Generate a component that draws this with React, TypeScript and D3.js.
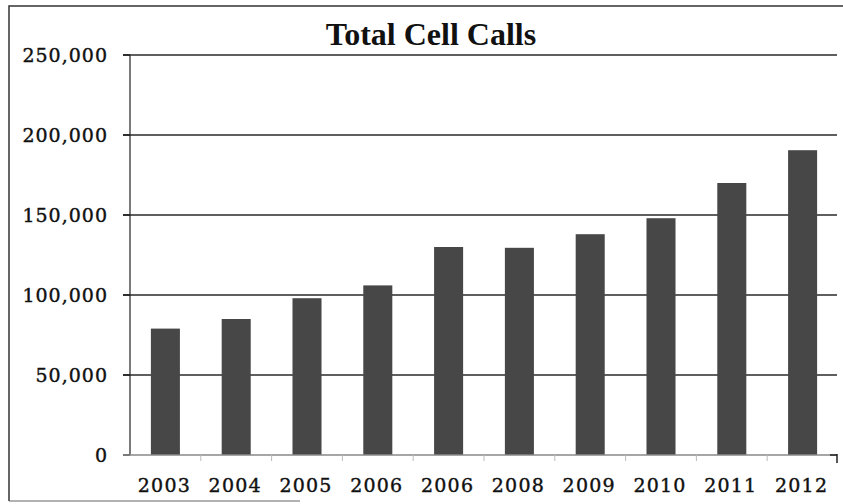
import React from "react";
import * as d3 from "d3";

const years = ["2003", "2004", "2005", "2006", "2006", "2008", "2009", "2010", "2011", "2012"];
const calls = [79000, 85000, 98000, 106000, 130000, 129500, 138000, 148000, 170000, 190500];
const yTicks = [0, 50000, 100000, 150000, 200000, 250000];
const title = "Total Cell Calls";

const W = 843;
const H = 504;

export default function App() {
  const x = d3
    .scaleBand<number>()
    .domain(d3.range(years.length))
    .range([130, 838])
    .paddingInner(0.59)
    .paddingOuter(0.295);
  const y = d3.scaleLinear().domain([0, 250000]).range([455, 55]);
  const fmt = d3.format(",");
  const labelFont = "'DejaVu Serif', Georgia, serif";

  return (
    <svg
      width={W}
      height={H}
      style={{ position: "absolute", left: 0, top: 0, background: "#fff" }}
    >
      {/* frame */}
      <path d="M9,501 L9,6 L843,6" fill="none" stroke="#333" strokeWidth={1.5} />
      <line x1={9} x2={300} y1={501} y2={501} stroke="#666" strokeWidth={1.2} />

      {/* title */}
      <text
        x={431}
        y={45}
        textAnchor="middle"
        fontFamily="'Liberation Serif', 'Times New Roman', serif"
        fontWeight="bold"
        fontSize={32}
        fill="#111"
      >
        {title}
      </text>

      {/* gridlines */}
      {yTicks
        .filter((t) => t > 0)
        .map((t) => (
          <line
            key={"g" + t}
            x1={123}
            x2={837}
            y1={y(t)}
            y2={y(t)}
            stroke="#2a2a2a"
            strokeWidth={1.6}
          />
        ))}

      {/* bars */}
      {calls.map((v, i) => (
        <rect
          key={"b" + i}
          x={x(i)!}
          y={y(v)}
          width={x.bandwidth()}
          height={y(0) - y(v)}
          fill="#474747"
        />
      ))}

      {/* y axis */}
      <line x1={130} x2={130} y1={y(250000)} y2={y(0)} stroke="#222" strokeWidth={1.2} />
      {yTicks.map((t) => (
        <g key={"yt" + t}>
          <line x1={123} x2={130} y1={y(t)} y2={y(t)} stroke="#222" strokeWidth={1.6} />
          <text
            x={108}
            y={y(t)}
            dy="0.38em"
            textAnchor="end"
            fontFamily={labelFont}
            fontSize={19}
            letterSpacing={1}
            stroke="#111"
            strokeWidth={0.4}
            fill="#111"
          >
            {fmt(t)}
          </text>
        </g>
      ))}

      {/* x axis */}
      <line x1={123} x2={837} y1={y(0)} y2={y(0)} stroke="#888" strokeWidth={1.6} />
      <line x1={837} x2={837} y1={y(0) - 1} y2={y(0) + 8} stroke="#222" strokeWidth={1.5} />
      <line x1={830} x2={837} y1={y(0)} y2={y(0)} stroke="#222" strokeWidth={1.5} />
      {d3.range(1, years.length).map((i) => {
        const bx = x(i)! - (x.step() * x.paddingInner()) / 2;
        return (
          <line
            key={"xt" + i}
            x1={bx}
            x2={bx}
            y1={y(0)}
            y2={y(0) + 6}
            stroke="#bbb"
            strokeWidth={1}
          />
        );
      })}
      {years.map((yr, i) => (
        <text
          key={"xl" + i}
          x={x(i)! + x.bandwidth() / 2 - 1}
          y={492}
          textAnchor="middle"
          fontFamily={labelFont}
          fontSize={19}
          letterSpacing={1.2}
          stroke="#111"
          strokeWidth={0.4}
          fill="#111"
        >
          {yr}
        </text>
      ))}
    </svg>
  );
}
